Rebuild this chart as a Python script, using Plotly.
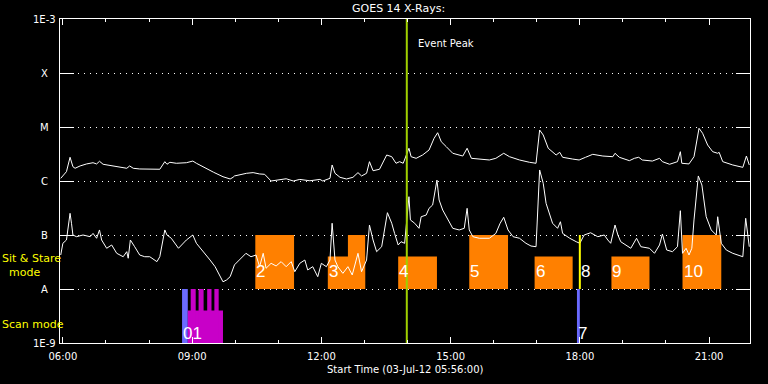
import numpy as np
import pandas as pd
import plotly.graph_objects as go

DAY = "2012-07-03 "

# GOES long channel (1-8 A), flux in units of 1e-6 W/m^2
long_time = ["05:57","06:05","06:10","06:14","06:17","06:24","06:33","06:42","06:47","06:51",
             "06:56","07:10","07:19","07:29","07:33","07:38","07:47","08:01","08:15","08:22",
             "08:25","08:29","08:38","08:52","09:01","09:06","09:16","09:30","09:43","09:53",
             "09:57","09:59","10:16","10:25","10:34","10:41","10:50","11:02","11:11","11:21",
             "11:30","11:44","11:58","12:02","12:12","12:15","12:19","12:26","12:35","12:44",
             "12:51","12:56","13:03","13:07","13:12","13:21","13:31","13:38","13:44","13:49",
             "13:54","14:02","14:05","14:12","14:21","14:30","14:37","14:42","14:47","14:54",
             "15:03","15:17","15:23","15:29","15:40","15:54","16:03","16:14","16:22","16:36",
             "16:50","16:59","17:04","17:09","17:16","17:27","17:32","17:36","17:50","17:59",
             "18:08","18:18","18:32","18:46","18:49","18:55","19:09","19:16","19:22","19:27",
             "19:41","19:51","19:55","20:05","20:16","20:20","20:22","20:32","20:39","20:46",
             "20:51","20:58","21:05","21:12","21:14","21:19","21:33","21:47","21:52","21:56"]
long_flux_e6 = [1.12,1.49,2.75,1.84,1.72,1.90,2.07,2.18,2.07,2.32,
                2.04,1.92,1.79,1.72,1.90,1.72,1.67,1.67,1.65,2.28,
                2.04,2.22,2.13,2.18,2.34,2.13,1.79,1.45,1.20,1.09,
                1.17,1.24,1.39,1.43,1.35,1.33,1.00,1.04,1.10,1.00,
                1.07,1.01,1.07,1.00,1.12,1.98,1.39,1.17,1.09,1.17,
                1.43,1.24,1.39,2.28,1.55,1.65,3.03,2.82,2.13,2.28,
                2.13,4.04,2.82,2.63,3.03,3.75,6.18,7.84,5.34,4.32,
                3.26,2.90,4.04,2.63,2.52,2.45,2.63,3.26,2.82,2.45,
                2.22,2.13,8.79,7.11,4.04,3.03,3.40,2.75,2.55,2.45,
                2.75,3.12,2.90,2.82,3.26,2.75,2.38,2.63,2.75,2.45,
                2.34,2.63,2.28,2.04,2.28,3.49,2.13,2.07,2.82,9.46,
                7.64,4.64,3.49,3.26,3.40,2.28,1.98,1.79,2.90,1.98]

# GOES short channel (0.5-4 A), flux in units of 1e-8 W/m^2
short_time = ["05:57","06:00","06:05","06:10","06:12","06:14","06:19","06:28","06:38","06:42",
              "06:47","06:51","06:54","07:01","07:08","07:15","07:24","07:29","07:31","07:34",
              "07:40","07:47","07:54","08:01","08:11","08:15","08:22","08:25","08:31","08:41",
              "08:52","09:01","09:06","09:16","09:25","09:32","09:39","09:43","09:48","09:53",
              "09:59","10:06","10:15","10:22","10:29","10:34","10:39","10:43","10:50","10:57",
              "11:04","11:11","11:18","11:23","11:30","11:37","11:41","11:48","11:55","12:00",
              "12:07","12:12","12:15","12:19","12:23","12:30","12:37","12:43","12:51","12:56",
              "13:03","13:07","13:12","13:17","13:24","13:32","13:38","13:42","13:47","13:51",
              "13:56","14:02","14:04","14:10","14:16","14:19","14:26","14:30","14:35","14:41",
              "14:44","14:49","14:56","15:03","15:12","15:19","15:23","15:26","15:31","15:40",
              "15:54","16:03","16:09","16:14","16:20","16:27","16:36","16:45","16:52","16:59",
              "17:04","17:09","17:13","17:22","17:29","17:33","17:36","17:46","17:55","18:00",
              "18:06","18:15","18:25","18:34","18:39","18:43","18:49","18:53","18:57","19:04",
              "19:11","19:19","19:25","19:37","19:44","19:51","19:55","20:01","20:09","20:16",
              "20:20","20:23","20:28","20:32","20:36","20:39","20:45","20:50","20:56","21:03",
              "21:10","21:12","21:17","21:24","21:33","21:47","21:51","21:56"]
short_flux_e8 = [4.26,7.02,8.08,25.2,16.5,10.0,9.3,10.0,9.3,10.7,
                 8.7,12.4,8.08,5.68,6.53,4.58,3.96,4.91,3.71,8.08,
                 6.07,4.26,3.96,3.96,3.21,3.96,12.4,10.0,8.7,5.68,
                 8.08,10.0,7.02,4.91,3.44,2.59,1.69,1.36,1.47,1.69,
                 2.8,3.44,4.58,3.96,4.26,2.59,4.58,2.42,2.99,2.67,
                 3.21,2.59,3.21,2.09,2.99,3.44,2.25,2.59,1.69,2.99,
                 2.59,3.44,16.5,3.44,2.59,1.95,2.59,1.82,4.58,2.09,
                 3.44,15.3,8.08,4.91,6.07,25.9,16.5,10.7,6.53,7.51,
                 7.02,51.2,19.0,16.5,13.3,21.8,23.4,31.2,35.9,104.0,
                 44.5,29.0,19.0,13.3,12.4,13.3,31.2,12.4,9.3,8.7,
                 8.7,10.7,16.5,21.3,12.4,9.3,8.7,7.02,6.25,6.07,
                 160.0,90.7,38.6,16.5,13.3,17.6,10.7,8.7,7.51,7.02,
                 10.0,11.0,9.3,10.0,8.08,7.02,15.3,10.0,7.51,6.53,
                 5.68,8.7,6.07,5.68,4.58,6.53,10.4,5.27,4.91,6.07,
                 28.2,4.58,5.68,4.26,5.68,19.0,124.0,84.3,21.8,12.4,
                 10.0,21.8,7.02,5.27,4.58,3.96,20.4,6.07]

# Sit & Stare observation blocks
ss_start = ["10:28","12:09","12:37","13:47","15:26","16:57","18:44","20:23"]
ss_end   = ["11:22","13:01","13:01","14:41","16:20","17:50","19:37","21:17"]
ss_top   = [1e-7, 4e-8, 1e-7, 4e-8, 1e-7, 4e-8, 4e-8, 1e-7]
ss_bottom = 1e-8
ss_label_text = ["2","3","4","5","6","8","9","10"]
ss_label_time = ["10:28","12:09","13:47","15:26","16:57","18:00","18:44","20:23"]
ss_line_time = "18:00"   # short sit & stare (8)

# Scan mode observations
scan_blue_start = ["08:46","17:56"]
scan_blue_end   = ["08:54","18:00"]
scan_mag_start = "08:54"
scan_mag_end   = "09:43"
scan_mag_top   = 4e-9
scan_spike_start = ["08:58","09:09","09:21","09:31"]
scan_spike_end   = ["09:05","09:16","09:27","09:37"]
scan_label_text = ["01","7"]
scan_label_time = ["08:46","17:56"]

event_peak = "13:59"

ytick_vals = [1e-9, 1e-8, 1e-7, 1e-6, 1e-5, 1e-4, 1e-3]
ytick_text = ["1E-9", "A", "B", "C", "M", "X", "1E-3"]

ORANGE = "#ff8000"
BLUE = "#6a6aff"
MAGENTA = "#c800c8"
YELLOW = "#ffff00"
GREEN = "#a0d000"
FONT = "DejaVu Sans"


def T(s):
    return pd.Timestamp(DAY + s)


def rect(t0, t1, y0, y1, color):
    return go.Scatter(x=[T(t0), T(t1), T(t1), T(t0), T(t0)],
                      y=[y0, y0, y1, y1, y0], mode="lines", fill="toself",
                      fillcolor=color, line=dict(width=0, color=color),
                      hoverinfo="skip", showlegend=False)


def vline(t, y0, y1, color, width):
    return go.Scatter(x=[T(t), T(t)], y=[y0, y1], mode="lines",
                      line=dict(color=color, width=width),
                      hoverinfo="skip", showlegend=False)


fig = go.Figure()

for s, e, top in zip(ss_start, ss_end, ss_top):
    fig.add_trace(rect(s, e, ss_bottom, top, ORANGE))

for s, e in zip(scan_blue_start, scan_blue_end):
    fig.add_trace(rect(s, e, 1e-9, 1e-8, BLUE))
fig.add_trace(rect(scan_mag_start, scan_mag_end, 1e-9, scan_mag_top, MAGENTA))
for s, e in zip(scan_spike_start, scan_spike_end):
    fig.add_trace(rect(s, e, 1e-9, 1e-8, MAGENTA))

fig.add_trace(go.Scatter(x=[T(t) for t in long_time],
                         y=np.array(long_flux_e6) * 1e-6, mode="lines",
                         line=dict(color="white", width=1), showlegend=False))
fig.add_trace(go.Scatter(x=[T(t) for t in short_time],
                         y=np.array(short_flux_e8) * 1e-8, mode="lines",
                         line=dict(color="white", width=1), showlegend=False))

fig.add_trace(vline(ss_line_time, 1e-8, 1e-7, YELLOW, 2))
fig.add_trace(vline(event_peak, 1e-9, 1e-3, GREEN, 2))

ann = []
for txt, t in zip(ss_label_text, ss_label_time):
    ann.append(dict(x=T(t), y=np.log10(2.1e-8), xref="x", yref="y", text=txt,
                    showarrow=False, xanchor="left", yanchor="middle", borderpad=0,
                    font=dict(family="Liberation Sans", size=17, color="white")))
for txt, t in zip(scan_label_text, scan_label_time):
    ann.append(dict(x=T(t), y=np.log10(1.5e-9), xref="x", yref="y", text=txt,
                    showarrow=False, xanchor="left", yanchor="middle", borderpad=0,
                    font=dict(family="Liberation Sans", size=17, color="white")))
for v, txt in zip(ytick_vals, ytick_text):
    ann.append(dict(x=0, xref="paper", xshift=-16, y=np.log10(v), yref="y",
                    text=txt, showarrow=False, xanchor="center", yanchor="middle",
                    font=dict(family=FONT, size=10, color="white")))

ann.append(dict(x=T(event_peak), xref="x", xshift=9, y=(343 - 43) / 324, yref="paper",
                text="Event Peak", showarrow=False, xanchor="left", yanchor="middle",
                font=dict(family=FONT, size=10, color="white")))
ann.append(dict(x=0, xref="paper", xshift=-59, y=(343 - 265) / 324, yref="paper",
                text="Sit & Stare<br>&nbsp;&nbsp;mode", align="left", showarrow=False,
                xanchor="left", yanchor="middle", borderpad=0,
                font=dict(family=FONT, size=11, color=YELLOW)))
ann.append(dict(x=0, xref="paper", xshift=-59, y=(343 - 324) / 324, yref="paper",
                text="Scan mode", showarrow=False, xanchor="left", yanchor="middle",
                borderpad=0, font=dict(family=FONT, size=11, color=YELLOW)))
ann.append(dict(x=0.49, xref="paper", y=(343 - 8) / 324, yref="paper",
                text="GOES 14 X-Rays:", showarrow=False, xanchor="center", yanchor="middle",
                font=dict(family=FONT, size=11, color="white")))
ann.append(dict(x=0.5, xref="paper", y=(343 - 369) / 324, yref="paper",
                text="Start Time (03-Jul-12 05:56:00)", showarrow=False,
                xanchor="center", yanchor="middle",
                font=dict(family=FONT, size=10, color="white")))

fig.update_layout(
    template="none",
    width=768, height=384,
    margin=dict(l=60, r=18, t=19, b=41, autoexpand=False),
    paper_bgcolor="black", plot_bgcolor="black",
    showlegend=False,
    annotations=ann,
    xaxis=dict(type="date", range=[T("05:56"), T("21:57")], automargin=False,
               tick0=T("00:00"), dtick=3 * 3600000, tickformat="%H:%M",
               ticks="inside", ticklen=6, tickwidth=1, tickcolor="white",
               minor=dict(dtick=3600000, ticks="inside", ticklen=3, tickcolor="white",
                          tickwidth=1, showgrid=False),
               showline=True, linecolor="white", linewidth=1, mirror="ticks",
               showgrid=False, zeroline=False, ticklabelstandoff=4,
               tickfont=dict(family=FONT, size=10, color="white")),
    yaxis=dict(type="log", range=[-9, -3], tickvals=ytick_vals, automargin=False,
               showticklabels=False,
               ticks="inside", ticklen=14, tickwidth=1, tickcolor="white",
               showline=True, linecolor="white", linewidth=1, mirror="ticks",
               showgrid=True, gridcolor="white", gridwidth=1, griddash="1px,5px",
               zeroline=False),
)

fig.write_html("out.html",
               config={"displayModeBar": False},
               post_script="document.body.style.margin='0';"
                           "document.body.style.background='black';")
